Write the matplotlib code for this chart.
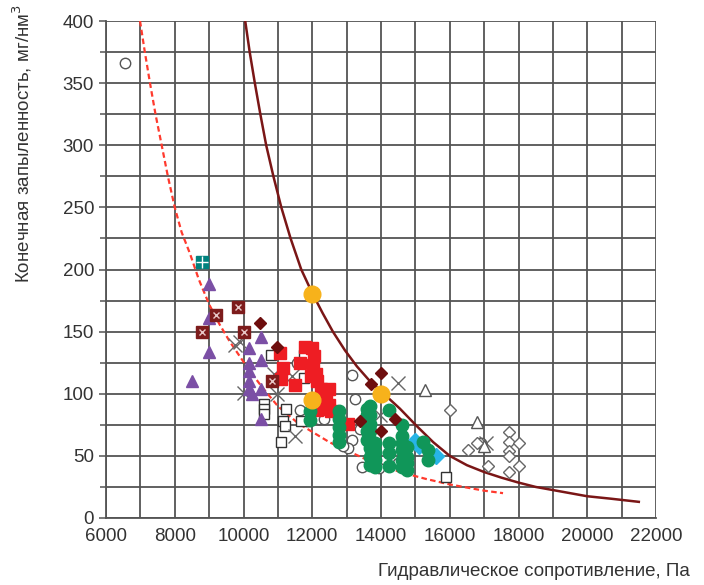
import numpy as np
import matplotlib
matplotlib.use('Agg')
import matplotlib.pyplot as plt
from matplotlib.ticker import MultipleLocator

plt.rcParams['font.family'] = ['Liberation Sans', 'DejaVu Sans']

# ---- data ----------------------------------------------------------------
# solid dark-red curve
curve_x = [10050, 10180, 10330, 10490, 10660, 10870, 11100, 11370, 11680, 12000,
           12300, 12600, 12950, 13300, 13650, 14000, 14550, 15040, 15520, 16000,
           16500, 17000, 17500, 18000, 18500, 19000, 19500, 20000, 20700, 21500]
curve_y = [400, 375, 350, 325, 300, 275, 250, 225, 200, 181,
           165, 150, 135, 122, 111, 102, 88, 74, 61, 50,
           42.5, 37, 32.5, 28.5, 25, 22.5, 20, 17.5, 15.5, 13]

# red dashed curve
dash_x = [6990, 7130, 7280, 7440, 7620, 7800, 8000, 8200, 8440, 8700, 9000, 9300,
          9600, 9870, 10140, 10550, 11000, 11600, 12500, 13500, 14550, 15300,
          16000, 17000, 17550]
dash_y = [400, 375, 350, 325, 300, 275, 250, 230, 213, 192, 172, 156,
          142, 131, 120, 105, 90, 76, 61, 48, 37, 31.5,
          27, 22, 20]

circ_x = [6550, 11550, 11650, 12200, 12350, 13150, 13250, 13400, 13150, 13050,
          12900, 13450, 13930, 14500, 16900, 11850]
circ_y = [366, 125, 87, 80, 80, 115, 96, 72, 63, 56,
          58, 41, 40, 44, 60, 78]

sq_x = [10800, 11770, 11750, 10600, 10600, 10600, 11250, 11150, 11200, 11680, 11100, 15880]
sq_y = [131, 131, 113, 92, 88, 84, 88, 78, 74, 78, 61, 33]

cross_x = [9750, 9900, 10000, 10900, 10970, 11400, 11500, 14500, 13970, 17050]
cross_y = [139, 142, 101, 116, 100, 114, 66, 109, 83, 60]

tri_x = [15280, 16800, 17000]
tri_y = [103, 77, 58]

dia_x = [16020, 16540, 16800, 17120, 17730, 17730, 17730, 17730, 18020, 18020, 17730]
dia_y = [87, 55, 60, 42, 69, 61, 54, 50, 60, 42, 37]

purple_x = [9000, 9000, 9000, 8500, 10150, 10150, 10150, 10150, 10150, 10500,
            10500, 10500, 10500, 10250]
purple_y = [188, 161, 134, 110, 137, 125, 118, 110, 104, 146,
            127, 104, 80, 100]

maroon_x = [10480, 10970, 13400, 13700, 14000, 14000, 14420]
maroon_y = [157, 138, 78, 108, 117, 70, 80]

mpat_x = [9850, 9200, 8800, 10000, 10820]
mpat_y = [170, 163, 150, 150, 110]

teal_x = [8800]
teal_y = [206]

red_x = [11050, 11150, 11100, 11500, 11650, 11800, 12000, 12050, 12030, 12100, 12130,
         11950, 12250, 12500, 12300, 12500, 12250, 12550, 12150, 13050, 12400]
red_y = [133, 121, 112, 107, 125, 138, 137, 130, 123, 116, 110,
         114, 104, 104, 95, 91, 88, 86, 87, 76, 100]

green_x = [11930, 11930,
           12780, 12780, 12780, 12780, 12780,
           13580, 13580, 13580, 13580, 13580,
           13680, 13680, 13680, 13680, 13680, 13680, 13680, 13680,
           13830, 13830, 13830, 13830,
           14220, 14220, 14220, 14220,
           14600, 14600, 14600, 14600, 14600, 14600,
           14750, 14750, 14750, 14750,
           15230, 15380, 15380]
green_y = [86, 79,
           86, 80, 73, 67, 61,
           88, 83, 76, 70, 63,
           90, 83, 76, 70, 63, 56, 49, 43,
           60, 53, 47, 41,
           87, 60, 52, 42,
           75, 66, 60, 55, 47, 41,
           57, 49, 44, 39,
           61, 55, 47]

cyan_x = [15000, 15100, 15600]
cyan_y = [62, 58, 50]

orange_x = [12000, 12000, 14000]
orange_y = [180, 95, 100]

# --------------------------------------------------------------------------
fig = plt.figure(figsize=(7.04, 5.85), dpi=100)
ax = fig.add_axes([106 / 704, 67 / 585, 550 / 704, 497 / 585])

grid_c = '#545454'
ax.set_xlim(6000, 22000)
ax.set_ylim(0, 400)
ax.xaxis.set_major_locator(MultipleLocator(2000))
ax.xaxis.set_minor_locator(MultipleLocator(1000))
ax.yaxis.set_major_locator(MultipleLocator(50))
ax.yaxis.set_minor_locator(MultipleLocator(25))
ax.grid(which='both', color=grid_c, lw=1.3)
ax.set_axisbelow(True)
for s in ['top', 'right']:
    ax.spines[s].set_visible(False)
for s in ['left', 'bottom']:
    ax.spines[s].set_color(grid_c)
    ax.spines[s].set_linewidth(1.3)
ax.tick_params(which='major', length=5, width=1.1, color=grid_c,
               labelsize=13.5, labelcolor='#333333')
ax.tick_params(which='minor', length=0)
ax.tick_params(axis='x', which='major', length=0, pad=7)
ax.tick_params(axis='y', which='minor', length=4, width=1.1, color=grid_c)

# curves
ax.plot(curve_x, curve_y, color='#7a1616', lw=1.8, zorder=2)
ax.plot(dash_x, dash_y, color='#ff3a2e', lw=1.6, ls=(0, (2.5, 1.5)), zorder=2)

# open markers
ax.plot(circ_x, circ_y, 'o', ms=7.5, mfc='white', mec='#555555', mew=1.0, ls='none', zorder=3)
ax.plot(sq_x, sq_y, 's', ms=7.5, mfc='white', mec='#333333', mew=1.0, ls='none', zorder=3)
ax.plot(cross_x, cross_y, 'x', ms=10, mec='#666666', mew=1.0, ls='none', zorder=3)
ax.plot(tri_x, tri_y, '^', ms=8.5, mfc='white', mec='#555555', mew=1.0, ls='none', zorder=3)
ax.plot(dia_x, dia_y, 'D', ms=6.5, mfc='white', mec='#666666', mew=1.0, ls='none', zorder=3)

# filled markers
ax.plot(purple_x, purple_y, '^', ms=9, mfc='#7b4fa5', mec='#7b4fa5', ls='none', zorder=4)
ax.plot(red_x, red_y, 's', ms=8, mfc='#ee1d23', mec='#ee1d23', ls='none', zorder=4)
ax.plot(green_x, green_y, 'o', ms=9, mfc='#109659', mec='#109659', ls='none', zorder=5)
ax.plot(cyan_x, cyan_y, 'D', ms=8, mfc='#27b4e6', mec='#27b4e6', ls='none', zorder=4)
ax.plot(maroon_x, maroon_y, 'D', ms=6, mfc='#6e0e0e', mec='#6e0e0e', ls='none', zorder=6)
ax.plot(mpat_x, mpat_y, 's', ms=8, mfc='#7d1c1c', mec='#7d1c1c', ls='none', zorder=4)
ax.plot(mpat_x, mpat_y, 'x', ms=4.5, mec='#e8c8c8', mew=1.0, ls='none', zorder=4)
ax.plot(teal_x, teal_y, 's', ms=8, mfc='#00827e', mec='#00827e', ls='none', zorder=4)
ax.plot(teal_x, teal_y, '+', ms=8, mec='white', mew=1.0, ls='none', zorder=4)
ax.plot(orange_x, orange_y, 'o', ms=12, mfc='#f7b21b', mec='#f7b21b', ls='none', zorder=6)

fig.text(690 / 704, 1 - 572 / 585, 'Гидравлическое сопротивление, Па', ha='right', va='center',
         fontsize=13.5, color='#333333')
fig.text(22 / 704, 1 - 4 / 585, 'Конечная запыленность, мг/нм$^3$', rotation=90,
         ha='center', va='top', fontsize=13.5, color='#333333')

fig.savefig('out.png', dpi=100)
